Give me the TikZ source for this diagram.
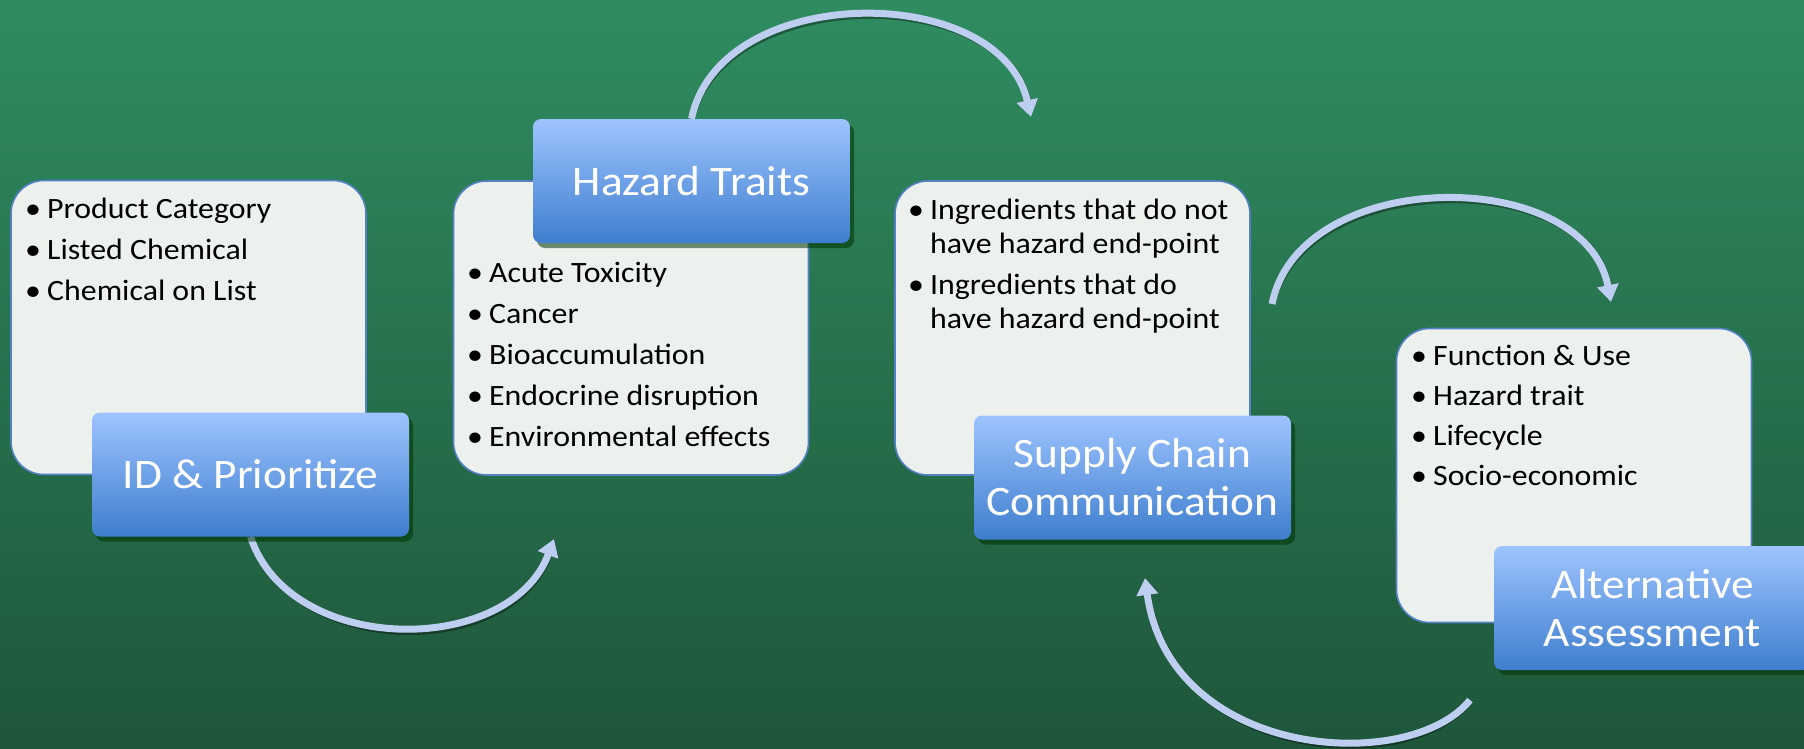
\documentclass[tikz,border=0pt]{standalone}
\usepackage{fontspec}
\setmainfont{Carlito}[FakeStretch=1.08]
\usetikzlibrary{arrows.meta,shadows}
\definecolor{bgtop}{RGB}{47,140,96}
\definecolor{bgbot}{RGB}{30,86,58}
\definecolor{boxfill}{RGB}{236,241,238}
\definecolor{boxline}{RGB}{84,128,196}
\definecolor{lbltop}{RGB}{158,196,255}
\definecolor{lblbot}{RGB}{62,126,206}
\definecolor{arrowcol}{RGB}{190,206,240}
\pgfdeclarelayer{bglayer}
\pgfdeclarelayer{arrowlayer}
\pgfsetlayers{bglayer,arrowlayer,main}
\tikzset{
  listbox/.style={draw=boxline, line width=1.6pt, fill=boxfill, rounded corners=33pt,
    minimum width=355pt, minimum height=294pt, inner sep=0pt},
  labelbox/.style={rounded corners=8pt, top color=lbltop, bottom color=lblbot,
    minimum width=317pt, minimum height=124pt, inner sep=0pt, text=white,
    align=center, font=\fontsize{42}{48}\selectfont,
    drop shadow={shadow xshift=4pt, shadow yshift=-5pt, opacity=0.55, fill=black!80!green}},
  listtext/.style={anchor=base west, inner sep=0pt, font=\fontsize{29.5}{34}\selectfont, text=black},
  flowarrow/.style={draw=arrowcol, line width=7pt, -{Triangle[length=17pt,width=21pt]}},
  arrowshadow/.style={draw=black, opacity=0.35, line width=7pt, -{Triangle[length=17pt,width=21pt]},
    xshift=3pt, yshift=-3pt},
}
\newcommand{\bitem}{\makebox[22pt][l]{•}}
\begin{document}
\begin{tikzpicture}[x=1pt,y=-1pt]
\path[use as bounding box] (0,0) rectangle (1804,748);
\begin{pgfonlayer}{bglayer}
\shade[top color=bgtop, bottom color=bgbot] (0,0) rectangle (1804,748);
\end{pgfonlayer}

% list boxes
\node[listbox] (b1) at (188.5,327.5) {};
\node[listbox] (b2) at (631,328) {};
\node[listbox] (b3) at (1072.5,328) {};
\node[listbox] (b4) at (1574,475.5) {};

% list texts
\node[listtext] (t1) at (25,218) {\begin{tabular}[t]{@{}l@{}l@{}}
\bitem & Product Category\\[7pt]
\bitem & Listed Chemical\\[7pt]
\bitem & Chemical on List
\end{tabular}};
\node[listtext] (t2) at (467,282) {\begin{tabular}[t]{@{}l@{}l@{}}
\bitem & Acute Toxicity\\[7pt]
\bitem & Cancer\\[7pt]
\bitem & Bioaccumulation\\[7pt]
\bitem & Endocrine disruption\\[7pt]
\bitem & Environmental effects
\end{tabular}};
\node[listtext] (t3) at (908,219) {\begin{tabular}[t]{@{}l@{}l@{}}
\bitem & Ingredients that do not\\
 & have hazard end-point\\[7pt]
\bitem & Ingredients that do\\
 & have hazard end-point
\end{tabular}};
\node[listtext] (t4) at (1411,365) {\begin{tabular}[t]{@{}l@{}l@{}}
\bitem & Function \& Use\\[6pt]
\bitem & Hazard trait\\[6pt]
\bitem & Lifecycle\\[6pt]
\bitem & Socio-economic
\end{tabular}};

% label boxes
\node[labelbox] (id) at (250.5,474.5) {ID \& Prioritize};
\node[labelbox] (ht) at (691.5,181) {Hazard Traits};
\node[labelbox] (sc) at (1132.5,477.5) {Supply Chain\\Communication};
\node[labelbox] (aa) at (1652.5,608) {Alternative\\Assessment};

% free ends of connectors
\coordinate (a1e) at (554,539);
\coordinate (a2e) at (1031,117);
\coordinate (a3s) at (1272,304);
\coordinate (a3e) at (1611,302);
\coordinate (a4s) at (1470,700);
\coordinate (a4e) at (1145,578);

\begin{pgfonlayer}{arrowlayer}
\draw[arrowshadow] (id.south) .. controls (290,657) and (510,657) .. (a1e);
\draw[flowarrow] (id.south) .. controls (290,657) and (510,657) .. (a1e);
\draw[arrowshadow] (ht.north) .. controls (720,-19) and (1000,-19) .. (a2e);
\draw[flowarrow] (ht.north) .. controls (720,-19) and (1000,-19) .. (a2e);
\draw[arrowshadow] (a3s) .. controls (1300,165) and (1585,165) .. (a3e);
\draw[flowarrow] (a3s) .. controls (1300,165) and (1585,165) .. (a3e);
\draw[arrowshadow] (a4s) .. controls (1410,775) and (1170,760) .. (a4e);
\draw[flowarrow] (a4s) .. controls (1410,775) and (1170,760) .. (a4e);
\end{pgfonlayer}
\end{tikzpicture}
\end{document}
